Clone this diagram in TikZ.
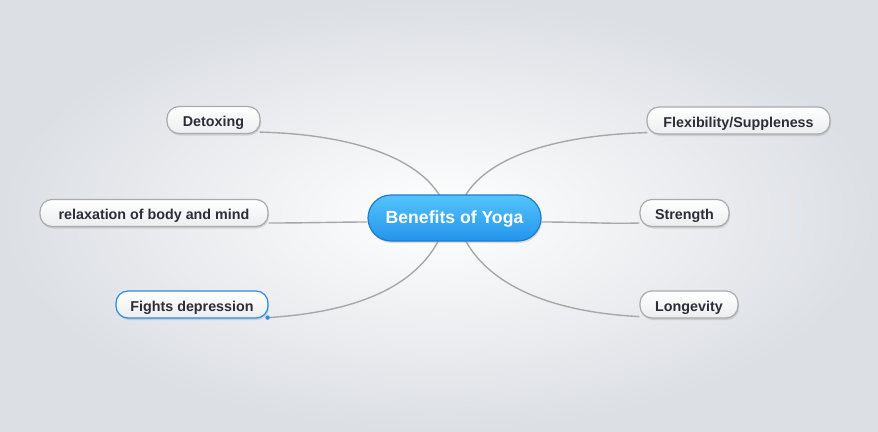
\documentclass[tikz,border=0pt]{standalone}
\usepackage{fontspec}
\setmainfont{Liberation Sans}
\usetikzlibrary{shadows,calc}
\definecolor{bgedge}{RGB}{220,223,228}
\definecolor{topicborder}{RGB}{170,170,172}
\definecolor{topicbot}{RGB}{236,237,239}
\definecolor{topictext}{RGB}{45,45,55}
\definecolor{linkgray}{RGB}{168,168,170}
\definecolor{centtop}{RGB}{84,196,252}
\definecolor{centbot}{RGB}{36,148,236}
\definecolor{centborder}{RGB}{30,124,205}
\definecolor{selblue}{RGB}{40,140,225}
\pgfdeclarelayer{bg}
\pgfdeclarelayer{links}
\pgfsetlayers{bg,links,main}
\begin{document}
\begin{tikzpicture}[x=1pt,y=-1pt,
  topic/.style={draw=topicborder, line width=1.2pt, rounded corners=12pt,
    top color=white, bottom color=topicbot,
    text=topictext, font=\fontsize{14.3}{16}\selectfont\bfseries,
    minimum height=27pt, inner sep=0pt, text height=14pt, text depth=1pt,
    drop shadow={shadow xshift=1pt, shadow yshift=-2pt, opacity=0.25}},
  central/.style={draw=centborder, line width=1.2pt, rounded corners=23pt,
    top color=centtop, bottom color=centbot, text=white,
    font=\fontsize{17.6}{20}\selectfont\bfseries,
    minimum width=173pt, minimum height=46pt, inner sep=0pt,
    text height=13.5pt, text depth=2pt,
    drop shadow={shadow xshift=1pt, shadow yshift=-2pt, opacity=0.25}},
  link/.style={draw=linkgray, line width=1.4pt}]
\begin{pgfonlayer}{bg}
\shade[inner color=white, outer color=bgedge] (0,0) rectangle (878,431);
\end{pgfonlayer}
\useasboundingbox (0,0) rectangle (878,431);

\node[central] (c) at (454.5,218) {Benefits of Yoga};

\node[topic, minimum width=93pt] (det) at (213.5,120) {Detoxing};
\node[topic, minimum width=228pt] (rel) at (154,213) {relaxation of body and mind};
\node[topic, minimum width=152pt, draw=selblue] (dep) at (192,304.5) {Fights depression};
\node[topic, minimum width=183pt] (flex) at (738.5,120.5) {Flexibility/Suppleness};
\node[topic, minimum width=89pt] (str) at (684.5,213) {Strength};
\node[topic, minimum width=98pt] (lon) at (689,304.5) {Longevity};

\begin{pgfonlayer}{links}
\draw[link] ($(det.south east)+(-1,-2)$) .. controls (345,134) and (415,155) .. ($(c.north)+(-15,1)$);
\draw[link] ($(flex.south west)+(1,-2)$) .. controls (560,135) and (490,155) .. ($(c.north)+(11,1)$);
\draw[link] ($(rel.east)+(0,10)$) .. controls (310,223) and (340,222) .. ($(c.west)+(0,4)$);
\draw[link] ($(c.east)+(0,4)$) .. controls (580,222) and (610,224) .. ($(str.west)+(0,10)$);
\draw[link] ($(dep.south east)+(-1,-1)$) .. controls (360,312) and (415,285) .. ($(c.south)+(-16,-1)$);
\draw[link] ($(lon.south west)+(0,-2)$) .. controls (550,312) and (490,285) .. ($(c.south)+(11,-1)$);
\end{pgfonlayer}

\fill[selblue] ($(dep.south east)+(-1,-1)$) circle (2.2pt);
\end{tikzpicture}
\end{document}
